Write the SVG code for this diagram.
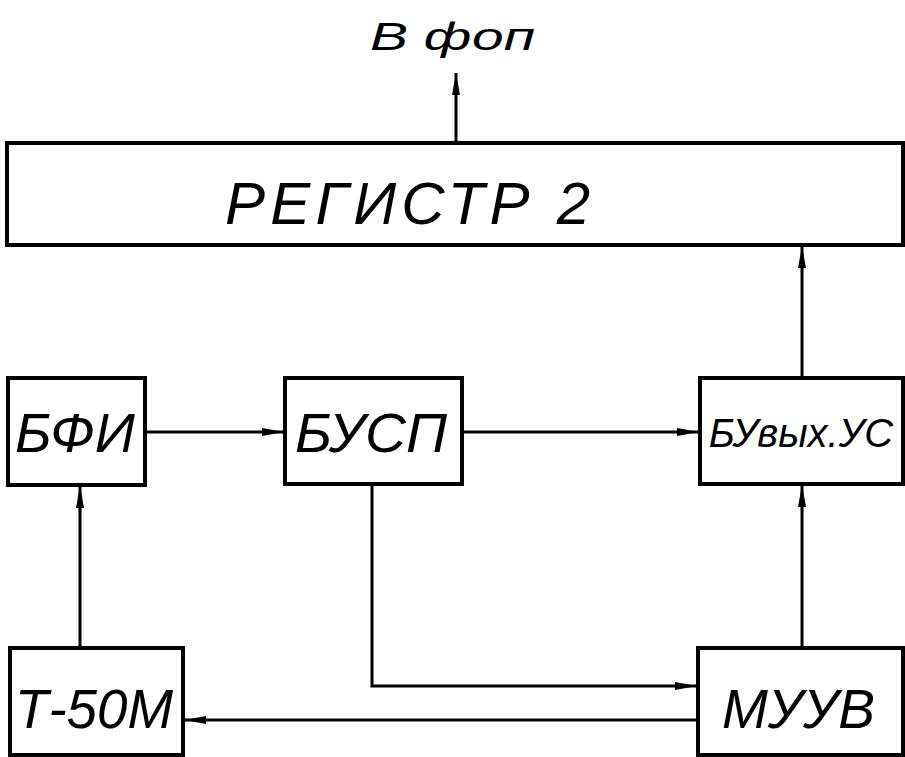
<svg xmlns="http://www.w3.org/2000/svg" width="905" height="757" viewBox="0 0 905 757">
<style>
.box{fill:#fff;stroke:#000;stroke-width:4}
.lbl{font-family:"Liberation Sans","DejaVu Sans",sans-serif;font-style:italic;fill:#000}
.ln{fill:none;stroke:#000;stroke-width:3}
</style>
<defs>
<marker id="ah" markerWidth="22" markerHeight="10" refX="22" refY="5" orient="auto" markerUnits="userSpaceOnUse">
<path d="M0,1 L22,5 L0,9 Z" fill="#000"/>
</marker>
</defs>
<rect width="905" height="757" fill="#fff"/>
<g id="connectors">
<line class="ln" x1="456" y1="143" x2="456" y2="73" marker-end="url(#ah)"/>
<line class="ln" x1="145" y1="432" x2="284" y2="432" marker-end="url(#ah)"/>
<line class="ln" x1="462" y1="432" x2="699" y2="432" marker-end="url(#ah)"/>
<line class="ln" x1="802" y1="378" x2="802" y2="246" marker-end="url(#ah)"/>
<line class="ln" x1="80" y1="648" x2="80" y2="486" marker-end="url(#ah)"/>
<polyline class="ln" points="372,484 372,686 697,686" marker-end="url(#ah)"/>
<line class="ln" x1="802" y1="648" x2="802" y2="485" marker-end="url(#ah)"/>
<line class="ln" x1="698" y1="720" x2="184" y2="720" marker-end="url(#ah)"/>
</g>
<g id="label-top">
<text class="lbl" x="370" y="50" font-size="38" textLength="165" lengthAdjust="spacingAndGlyphs">В фоп</text>
</g>
<g id="register2">
<rect class="box" x="7" y="143" width="896" height="102"/>
<text class="lbl" x="225" y="224" font-size="60" textLength="365" lengthAdjust="spacing">РЕГИСТР 2</text>
</g>
<g id="bfi">
<rect class="box" x="8" y="378" width="137" height="107"/>
<text class="lbl" x="15" y="452" font-size="56" textLength="120" lengthAdjust="spacingAndGlyphs">БФИ</text>
</g>
<g id="busp">
<rect class="box" x="285" y="378" width="177" height="106"/>
<text class="lbl" x="295" y="452" font-size="56" textLength="152" lengthAdjust="spacingAndGlyphs">БУСП</text>
</g>
<g id="buvyh">
<rect class="box" x="700" y="378" width="203" height="106"/>
<text class="lbl" x="801" y="447" font-size="40" text-anchor="middle">БУвых.УС</text>
</g>
<g id="t50m">
<rect class="box" x="10" y="648" width="173" height="107"/>
<text class="lbl" x="15" y="728" font-size="56" textLength="158" lengthAdjust="spacingAndGlyphs">Т-50М</text>
</g>
<g id="muuv">
<rect class="box" x="698" y="648" width="205" height="107"/>
<text class="lbl" x="722" y="728" font-size="56" textLength="153" lengthAdjust="spacingAndGlyphs">МУУВ</text>
</g>
</svg>
